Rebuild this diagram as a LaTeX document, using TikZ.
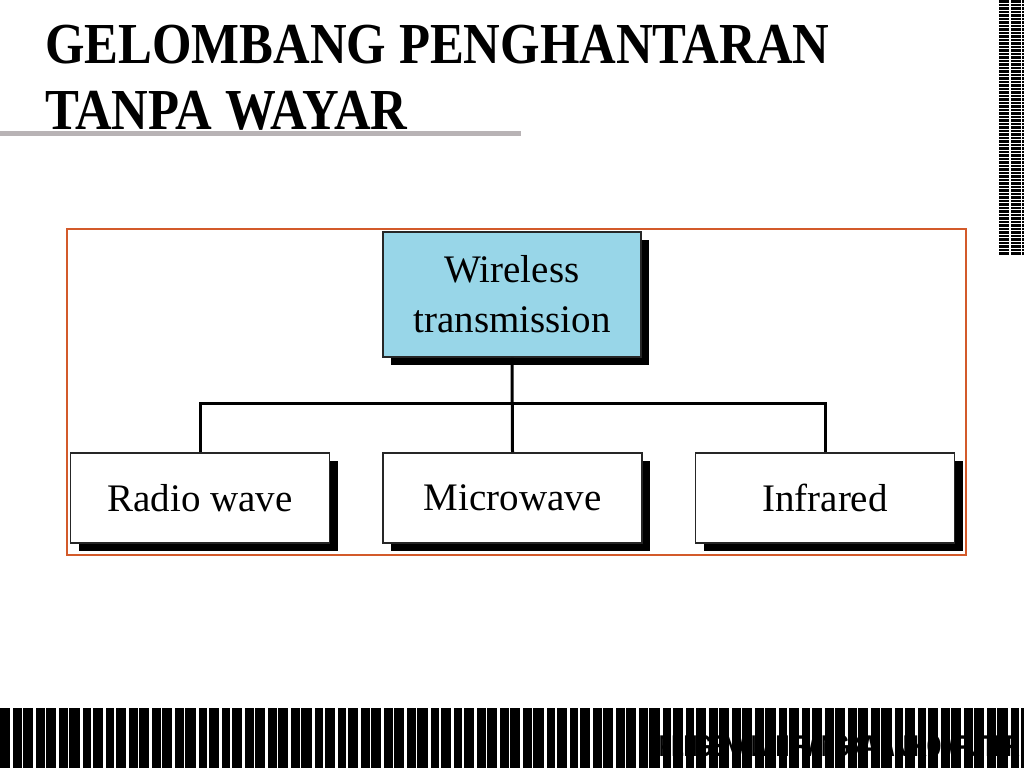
\documentclass[tikz,border=0pt]{standalone}
\usepackage{fontspec}
\setmainfont{Liberation Serif}
\newfontfamily\footfont{Liberation Sans}
\usetikzlibrary{positioning, shadows}

\definecolor{framecol}{RGB}{211,90,42}
\definecolor{boxblue}{RGB}{152,214,232}
\definecolor{rulegray}{RGB}{184,179,181}

\tikzset{
  treebox/.style={draw=black!85, line width=1.6pt, minimum height=90pt,
    minimum width=259pt, align=center, inner sep=0pt,
    font=\fontsize{39}{50}\selectfont,
    drop shadow={shadow xshift=8pt, shadow yshift=-8pt, fill=black, opacity=1}},
  conn/.style={line width=3pt, black},
}

\begin{document}
\begin{tikzpicture}[x=1pt, y=1pt]
\def\W{1024}
\def\H{768}
\useasboundingbox (0,0) rectangle (\W,\H);
\fill[white] (0,0) rectangle (\W,\H);

% title
\node[anchor=base west, inner sep=0pt] (title1) at (45,704)
  {\fontsize{58}{66}\selectfont\bfseries\scalebox{0.875}[1]{GELOMBANG PENGHANTARAN}};
\node[anchor=base west, inner sep=0pt] (title2) at (45,638)
  {\fontsize{58}{66}\selectfont\bfseries\scalebox{0.875}[1]{TANPA WAYAR}};
\draw[rulegray, line width=5pt] (0,634) -- (521,634);

% frame round the tree
\draw[framecol, line width=2.5pt] (67,213) rectangle (966,539);

% tree
\node[treebox, fill=boxblue, minimum width=258pt, minimum height=125pt] (wt) at (512,473.5)
  {Wireless\\transmission};
\node[treebox, fill=white] (radio) at (200,270) {Radio wave};
\node[treebox, fill=white] (micro) at (512.5,270) {Microwave};
\node[treebox, fill=white] (infra) at (825,270) {Infrared};

\coordinate (bus) at (512,364);
\draw[conn] (wt.south) -- (micro.north);
\draw[conn] (radio.north) |- (infra.north |- bus) -- (infra.north);

% right stripes
\fill[black] (999,513) rectangle (\W,\H);
\foreach \k in {0,...,73}
  \fill[white] (999,{\H-3.5*\k-2.6}) rectangle (\W,{\H-3.5*\k-3.5});
\fill[white] (1008.8,513) rectangle (1011,\H);
\fill[white] (1021.3,513) rectangle (1022.3,\H);

% bottom stripes
\fill[black] (0,0) rectangle (\W,60);
\foreach \k in {0,...,44} {
  \fill[white] ({23.2*\k+10},0) rectangle ({23.2*\k+13},60);
  \fill[white] ({23.2*\k+21.5},0) rectangle ({23.2*\k+23},60);
}
\node[anchor=base east, inner sep=0pt] (footer) at (1020,12)
  {\footfont\fontsize{30}{32}\selectfont\bfseries\scalebox{0.62}[1]{PENGENALAN RANGKAIAN KOMPUTER}};
\end{tikzpicture}
\end{document}
